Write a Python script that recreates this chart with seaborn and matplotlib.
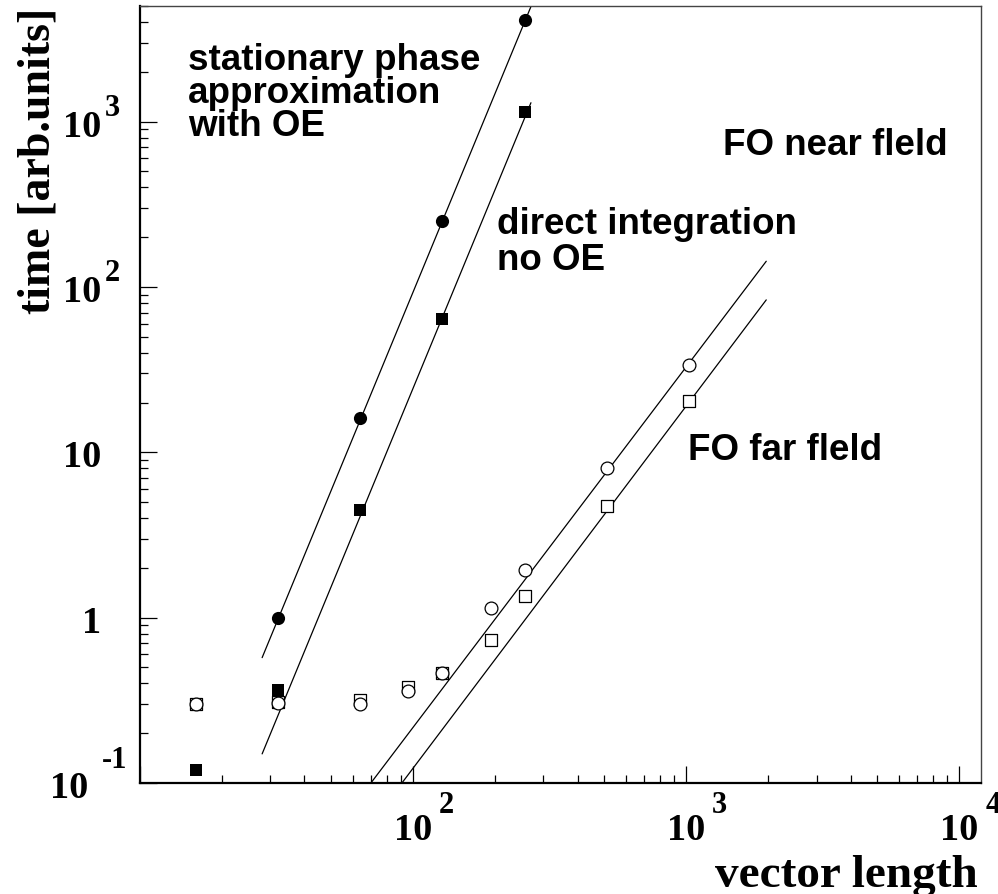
import numpy as np
import pandas as pd
import matplotlib
matplotlib.use("Agg")
import matplotlib.pyplot as plt
from matplotlib.ticker import LogLocator, NullFormatter
import seaborn as sns

# Computing time versus vector length
n_stationary = [32, 64, 128, 256]
t_stationary = [1.0, 16.1, 251, 4100]

n_direct = [16, 32, 64, 128, 256]
t_direct = [0.12, 0.366, 4.5, 64, 1150]

n_fo = [16, 32, 64, 96, 128, 192, 256, 512, 1024]
t_fo_near = [0.301, 0.305, 0.300, 0.361, 0.464, 1.15, 1.95, 8.0, 33.7]
t_fo_far = [0.300, 0.310, 0.318, 0.382, 0.464, 0.736, 1.36, 4.71, 20.4]

# Power-law fits, given by their end points
fit_stationary_n = [28.0, 270.0]
fit_stationary_t = [0.573, 4960]
fit_direct_n = [28.0, 270.0]
fit_direct_t = [0.150, 1300]
fit_near_n = [69.6, 1963]
fit_near_t = [0.0986, 143]
fit_far_n = [90.4, 1963]
fit_far_t = [0.0986, 83.5]

# Axis labelling
x_label_values = [100, 1000, 10000]
x_label_bases = ["10", "10", "10"]
x_label_exponents = ["2", "3", "4"]
y_label_values = [0.1, 1, 10, 100, 1000]
y_label_bases = ["10", "1", "10", "10", "10"]
y_label_exponents = ["-1", "", "", "2", "3"]

sns.set_theme(style="white")
plt.rcParams["font.family"] = ["Liberation Serif", "DejaVu Serif"]
plt.rcParams["text.color"] = "black"

W, H = 998, 895
fig = plt.figure(figsize=(W / 100, H / 100), dpi=100)
L, R, B, T = 140, 981, 784, 7
ax = fig.add_axes([L / W, (H - B) / H, (R - L) / W, (B - T) / H])
ax.set_xscale("log")
ax.set_yscale("log")
ax.set_xlim(10, 12000)
ax.set_ylim(0.1, 5000)

# fitted lines
for nx, ty in [(fit_stationary_n, fit_stationary_t), (fit_direct_n, fit_direct_t),
               (fit_near_n, fit_near_t), (fit_far_n, fit_far_t)]:
    sns.lineplot(x=nx, y=ty, color="black", linewidth=0.9, sort=False,
                 estimator=None, ax=ax, zorder=2)

# measured timings
sns.scatterplot(x=n_direct, y=t_direct, marker="s", s=85, color="black",
                edgecolor="black", linewidth=0, ax=ax, zorder=3)
sns.scatterplot(x=n_stationary, y=t_stationary, marker="o", s=90, color="black",
                edgecolor="black", linewidth=0, ax=ax, zorder=3)
sns.scatterplot(x=n_fo, y=t_fo_far, marker="s", s=75, facecolor="white",
                edgecolor="black", linewidth=0.9, ax=ax, zorder=4)
sns.scatterplot(x=n_fo, y=t_fo_near, marker="o", s=85, facecolor="white",
                edgecolor="black", linewidth=0.9, ax=ax, zorder=5)

# frame and ticks
for side in ["left", "bottom"]:
    ax.spines[side].set_linewidth(1.6)
    ax.spines[side].set_color("black")
for side in ["top", "right"]:
    ax.spines[side].set_linewidth(1.0)
    ax.spines[side].set_color("#444444")
ax.xaxis.set_major_locator(LogLocator(base=10, numticks=12))
ax.xaxis.set_minor_locator(LogLocator(base=10, subs=np.arange(2, 10), numticks=40))
ax.yaxis.set_major_locator(LogLocator(base=10, numticks=12))
ax.yaxis.set_minor_locator(LogLocator(base=10, subs=np.arange(2, 10), numticks=40))
for axis in (ax.xaxis, ax.yaxis):
    axis.set_major_formatter(NullFormatter())
    axis.set_minor_formatter(NullFormatter())
ax.tick_params(which="both", direction="in", color="black", width=0.9,
               bottom=True, left=True, top=False, right=False)
ax.tick_params(which="major", length=12.5)
ax.tick_params(which="minor", length=6)
ax.grid(False)

base_fs, exp_fs = 27.5, 22
for v, b, e in zip(x_label_values, x_label_bases, x_label_exponents):
    ax.annotate(b, xy=(v, 0), xycoords=("data", "axes fraction"), xytext=(0, -56),
                textcoords="offset pixels", ha="center", va="baseline",
                fontsize=base_fs, fontweight="bold", color="black")
    ax.annotate(e, xy=(v, 0), xycoords=("data", "axes fraction"), xytext=(26, -29),
                textcoords="offset pixels", ha="left", va="baseline",
                fontsize=exp_fs, fontweight="bold", color="black")
for v, b, e in zip(y_label_values, y_label_bases, y_label_exponents):
    neg = e.startswith("-")
    bx = -52 if neg else -39
    ax.annotate(b, xy=(0, v), xycoords=("axes fraction", "data"), xytext=(bx, -14),
                textcoords="offset pixels", ha="right", va="baseline",
                fontsize=base_fs, fontweight="bold", color="black")
    if e:
        ax.annotate(e, xy=(0, v), xycoords=("axes fraction", "data"),
                    xytext=(-38 if neg else -35, 16 if neg else 7),
                    textcoords="offset pixels", ha="left", va="baseline",
                    fontsize=exp_fs, fontweight="bold", color="black")

fig.text(978 / W, (H - 887) / H, "vector length", ha="right", va="baseline",
         fontsize=34, fontweight="bold", color="black")
fig.text(50 / W, 1 - 8 / H, "time [arb.units]", rotation=90, rotation_mode="anchor",
         ha="right", va="baseline", fontsize=33, fontweight="bold", color="black")

# curve annotations
def note(px, py, s):
    ax.text((px - L) / (R - L), (B - py) / (B - T), s, transform=ax.transAxes,
            ha="left", va="baseline", fontsize=26.5, fontweight="bold", color="black",
            family=["Liberation Sans", "DejaVu Sans"])

note(188, 70, "stationary phase")
note(188, 103, "approximation")
note(188, 136, "with OE")
note(497, 234, "direct integration")
note(497, 270, "no OE")
note(723, 155, "FO near fleld")
note(688, 460, "FO far fleld")

fig.savefig("out.png", dpi=100, facecolor="white")
